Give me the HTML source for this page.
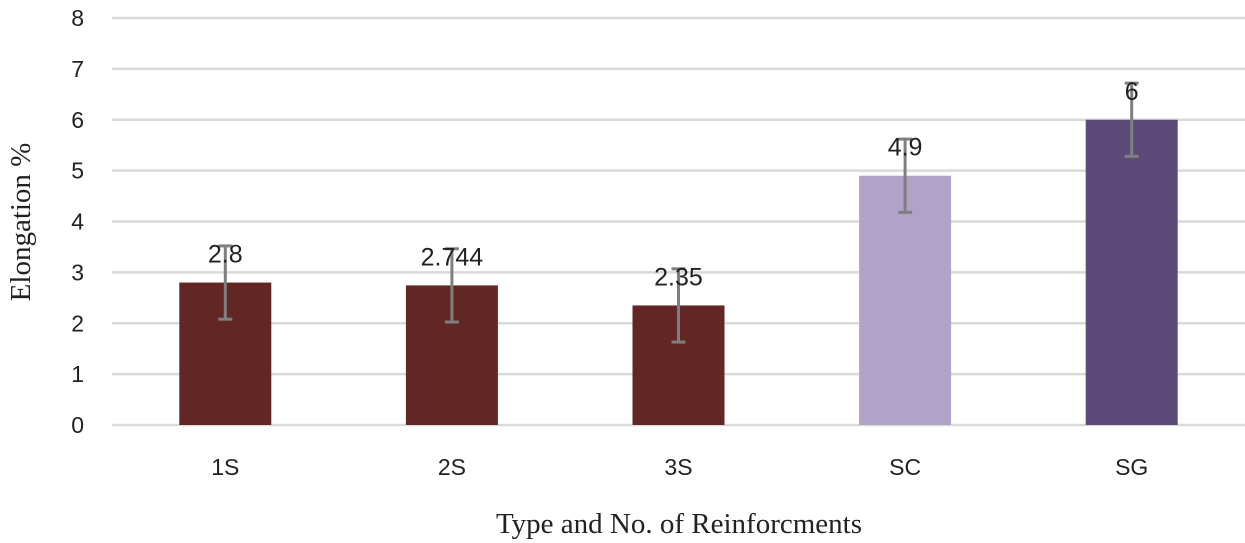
<!DOCTYPE html>
<html><head><meta charset="utf-8"><style>
html,body{margin:0;padding:0;background:#fff;}
svg{display:block;}
</style></head><body>
<svg id="chart" width="1245" height="543" viewBox="0 0 1245 543" xmlns="http://www.w3.org/2000/svg">
<g id="grid"></g>
<g id="bars"></g>
<g id="labels"></g>
<text transform="translate(30,222) rotate(-90)" text-anchor="middle" font-family="Liberation Serif, serif" font-size="29" fill="#222">Elongation %</text>
<text x="679" y="533" text-anchor="middle" font-family="Liberation Serif, serif" font-size="29" fill="#222">Type and No. of Reinforcments</text>
</svg>
<script>
const categories = ["1S","2S","3S","SC","SG"];
const values = [2.8, 2.744, 2.35, 4.9, 6];
const valueLabels = ["2.8","2.744","2.35","4.9","6"];
const errors = [0.72, 0.72, 0.72, 0.72, 0.72];
const colors = ["#622624","#622624","#622624","#b1a2c8","#5e4a79"];
const yTicks = [0,1,2,3,4,5,6,7,8];

const NS="http://www.w3.org/2000/svg";
const x0=112, x1=1245, yBase=425, yTop=18, yMax=8;
const bandW=(x1-x0)/categories.length, barW=92;
function yScale(v){return yBase-(yBase-yTop)*v/yMax;}
function xCenter(i){return x0+bandW*(i+0.5);}
function mk(tag,attrs,parent){const e=document.createElementNS(NS,tag);for(const k in attrs)e.setAttribute(k,attrs[k]);parent.appendChild(e);return e;}
const grid=document.getElementById('grid'),bars=document.getElementById('bars'),labels=document.getElementById('labels');
yTicks.forEach(t=>{
  const l=mk('line',{x1:x0,x2:x1,y1:yScale(t),y2:yScale(t),stroke:'#d9d9d9','stroke-width':2.5},grid);
  
  
  const tx=mk('text',{x:84,y:yScale(t)+8,'text-anchor':'end','font-family':'Liberation Sans, sans-serif','font-size':23,fill:'#222'},labels);
  tx.textContent=t;
  
  
});
categories.forEach((c,i)=>{
  const cx=xCenter(i), v=values[i];
  const r=mk('rect',{x:cx-barW/2,y:yScale(v),width:barW,height:yBase-yScale(v),fill:colors[i]},bars);
  
  
  const vl=mk('text',{x:cx,y:yScale(v)-20,'text-anchor':'middle','font-family':'Liberation Sans, sans-serif','font-size':25,fill:'#222'},labels);
  vl.textContent=valueLabels[i];
  
  
  const e=errors[i], g=mk('g',{stroke:'#7f7f7f','stroke-width':3},bars);
  
  
  mk('line',{x1:cx,x2:cx,y1:yScale(v+e),y2:yScale(v-e)},g);
  mk('line',{x1:cx-7,x2:cx+7,y1:yScale(v+e),y2:yScale(v+e)},g);
  mk('line',{x1:cx-7,x2:cx+7,y1:yScale(v-e),y2:yScale(v-e)},g);
  const xl=mk('text',{x:cx,y:475,'text-anchor':'middle','font-family':'Liberation Sans, sans-serif','font-size':23,fill:'#222'},labels);
  xl.textContent=c;
  
  
});
</script>
</body></html>
